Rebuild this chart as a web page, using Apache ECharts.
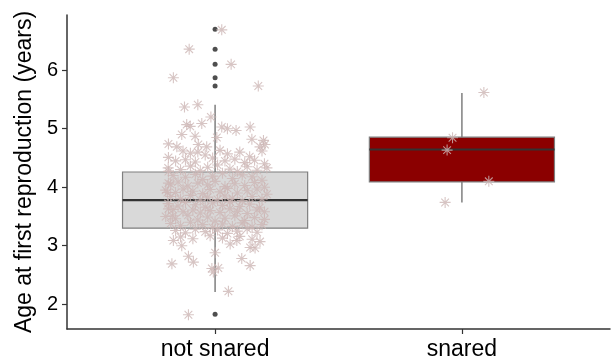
<!DOCTYPE html>
<html>
<head>
<meta charset="utf-8">
<script src="https://cdn.jsdelivr.net/npm/echarts@6/dist/echarts.min.js"></script>
<style>
html,body{margin:0;padding:0;background:#fff;}
#chart{width:613px;height:362px;}
</style>
</head>
<body>
<div id="chart"></div>
<script>
// Categories and positions on the discrete axis
const categories = ['not snared', 'snared'];
const categoryPos = [1, 2];
const yTicks = [2, 3, 4, 5, 6];

// Box statistics: [position, lowerWhisker, Q1, median, Q3, upperWhisker]
const boxNotSnared = [1, 2.21, 3.30, 3.78, 4.26, 5.41];
const boxSnared = [2, 3.74, 4.09, 4.645, 4.855, 5.61];
const boxFills = ['#d9d9d9', '#8b0000'];

// Outliers (not snared)
const outlierX = [1, 1, 1, 1, 1, 1];
const outlierY = [6.70, 6.36, 6.10, 5.87, 5.73, 1.83];

// Jittered observations, not snared
const notSnaredX = [
  1.027, 0.895, 1.065, 0.831, 1.175,
  0.876, 0.930, 0.983, 0.885, 0.899, 0.946, 1.027, 1.050, 1.085, 1.142, 0.865, 0.919, 1.007, 1.149, 1.196, 0.811, 0.845, 0.932, 0.966, 1.182, 1.202,
  0.811, 0.811, 0.811, 0.807, 0.811, 0.827,
  0.825, 0.892, 0.912, 0.987, 0.993, 1.013, 1.000, 1.108, 1.142, 1.054, 0.892, 1.162, 0.831, 0.865, 1.061, 1.088, 1.182, 1.142,
  0.87, 0.90, 0.93, 0.96, 1.02, 1.05, 1.10, 1.14, 1.19, 0.84, 0.88, 0.92, 0.99, 1.04, 1.08, 1.12, 1.16, 1.20,
  0.81, 0.86, 0.90, 0.94, 0.97, 1.01, 1.06, 1.09, 1.13, 1.17, 1.21,
  0.83, 0.88, 0.92, 0.95, 0.99, 1.03, 1.07, 1.11, 1.15, 1.19,
  0.82, 0.85, 0.89, 0.93, 0.97, 1.00, 1.04, 1.08, 1.12, 1.16, 1.20,
  0.80, 0.84, 0.87, 0.91, 0.95, 0.98, 1.02, 1.05, 1.09, 1.13, 1.17, 1.21,
  0.82, 0.86, 0.90, 0.94, 0.97, 1.01, 1.04, 1.07, 1.11, 1.15, 1.19,
  0.81, 0.85, 0.88, 0.92, 0.96, 0.99, 1.03, 1.06, 1.10, 1.14, 1.18,
  0.83, 0.87, 0.91, 0.94, 0.98, 1.02, 1.06, 1.09, 1.13, 1.17, 1.20,
  0.80, 0.84, 0.89, 0.93, 0.97, 1.00, 1.04, 1.08, 1.12, 1.16, 1.20,
  0.82, 0.86, 0.90, 0.95, 0.99, 1.03, 1.07, 1.11, 1.15, 1.19,
  0.84, 0.88, 0.92, 0.96, 1.01, 1.05, 1.09, 1.13, 1.17,
  0.86, 0.91, 0.98, 1.03, 1.10, 1.15
];
const notSnaredY = [
  6.69, 6.36, 6.10, 5.87, 5.73,
  5.37, 5.41, 5.20, 5.07, 5.04, 5.09, 5.03, 5.00, 4.97, 5.03, 4.90, 4.87, 4.85, 4.82, 4.80, 4.74, 4.69, 4.73, 4.69, 4.69, 4.73,
  4.51, 4.27, 4.07, 3.91, 3.63, 3.51,
  2.69, 2.82, 2.72, 2.61, 2.55, 2.62, 2.88, 2.78, 2.66, 2.22, 1.82, 2.96, 3.09, 3.00, 3.03, 3.09, 3.07, 2.97,
  4.62, 4.58, 4.60, 4.55, 4.63, 4.57, 4.60, 4.52, 4.62, 4.45, 4.47, 4.43, 4.50, 4.45, 4.48, 4.42, 4.46, 4.40,
  4.33, 4.30, 4.36, 4.28, 4.34, 4.38, 4.31, 4.27, 4.35, 4.29, 4.33,
  4.20, 4.17, 4.22, 4.13, 4.19, 4.24, 4.15, 4.21, 4.18, 4.12,
  4.05, 4.09, 4.02, 4.07, 4.04, 4.10, 4.01, 4.06, 4.03, 4.08, 4.00,
  3.95, 3.91, 3.97, 3.93, 3.89, 3.96, 3.92, 3.98, 3.90, 3.94, 3.97, 3.88,
  3.84, 3.80, 3.86, 3.78, 3.83, 3.79, 3.85, 3.81, 3.77, 3.84, 3.80,
  3.72, 3.68, 3.74, 3.70, 3.66, 3.73, 3.69, 3.75, 3.67, 3.71, 3.65,
  3.62, 3.58, 3.61, 3.56, 3.60, 3.57, 3.63, 3.59, 3.55, 3.61, 3.58,
  3.50, 3.46, 3.52, 3.44, 3.49, 3.42, 3.47, 3.51, 3.43, 3.48, 3.45,
  3.38, 3.34, 3.40, 3.36, 3.31, 3.37, 3.33, 3.39, 3.32, 3.36,
  3.26, 3.22, 3.28, 3.24, 3.27, 3.21, 3.25, 3.29, 3.23,
  3.15, 3.12, 3.17, 3.13, 3.16, 3.11
];

// Jittered observations, snared
const snaredX = [2.089, 1.962, 1.940, 2.109, 1.932];
const snaredY = [5.62, 4.845, 4.634, 4.10, 3.74];

const asterisk = 'path://M10,0L10,20M0,10L20,10M3,3L17,17M3,17L17,3';
const pointColor = '#cdb7b5';

function zip(xs, ys) { return xs.map((x, i) => [x, ys[i]]); }

const chart = echarts.init(document.getElementById('chart'), null, {renderer: 'canvas'});
const axisColor = '#333333';
const font = 'Liberation Sans, Arial, sans-serif';

chart.setOption({
  animation: false,
  grid: {left: 67, right: 3, top: 15, bottom: 33, containLabel: false},
  xAxis: {
    type: 'value', min: 0.4, max: 2.6,
    splitLine: {show: false},
    axisLine: {show: true, lineStyle: {color: axisColor, width: 1.5}},
    axisTick: {show: true, length: 5, lineStyle: {color: axisColor, width: 1.2}, customValues: categoryPos},
    axisLabel: {
      customValues: categoryPos,
      formatter: v => categories[categoryPos.indexOf(Math.round(v))] || '',
      color: '#000', fontSize: 23, fontFamily: font, margin: 9
    }
  },
  yAxis: {
    type: 'value', min: 1.576, max: 6.944,
    splitLine: {show: false},
    name: 'Age at first reproduction (years)',
    nameLocation: 'middle', nameGap: 29,
    nameTextStyle: {color: '#000', fontSize: 23, fontFamily: font},
    axisLine: {show: true, lineStyle: {color: axisColor, width: 1.5}},
    axisTick: {show: true, length: 5, lineStyle: {color: axisColor, width: 1.2}, customValues: yTicks},
    axisLabel: {customValues: yTicks, color: '#000', fontSize: 20, fontFamily: font, margin: 9}
  },
  series: [
    {
      type: 'custom',
      z: 1,
      data: [boxNotSnared, boxSnared],
      encode: {x: 0, y: [1, 2, 3, 4, 5]},
      renderItem: function (params, api) {
        const x = api.value(0), lo = api.value(1), q1 = api.value(2), med = api.value(3), q3 = api.value(4), hi = api.value(5);
        const half = 0.375;
        const pLo = api.coord([x, lo]), pQ1 = api.coord([x, q1]), pQ3 = api.coord([x, q3]), pHi = api.coord([x, hi]);
        const bl = api.coord([x - half, q1]), tr = api.coord([x + half, q3]);
        const mL = api.coord([x - half, med]), mR = api.coord([x + half, med]);
        const whisk = {stroke: '#7f7f7f', lineWidth: 1.5};
        return {
          type: 'group',
          children: [
            {type: 'line', shape: {x1: pHi[0], y1: pHi[1], x2: pQ3[0], y2: pQ3[1]}, style: whisk},
            {type: 'line', shape: {x1: pLo[0], y1: pLo[1], x2: pQ1[0], y2: pQ1[1]}, style: whisk},
            {type: 'rect', shape: {x: bl[0], y: tr[1], width: tr[0] - bl[0], height: bl[1] - tr[1]},
             style: {fill: boxFills[params.dataIndex], stroke: '#7f7f7f', lineWidth: 1.2}},
            {type: 'line', shape: {x1: mL[0], y1: mL[1], x2: mR[0], y2: mR[1]}, style: {stroke: '#333333', lineWidth: 2.2}}
          ]
        };
      }
    },
    {
      type: 'scatter', z: 2,
      data: zip(outlierX, outlierY),
      symbol: 'circle', symbolSize: 5,
      itemStyle: {color: '#222222'}
    },
    {
      type: 'scatter', z: 3,
      data: zip(notSnaredX, notSnaredY),
      symbol: asterisk, symbolSize: 11,
      itemStyle: {color: 'transparent', borderColor: pointColor, borderWidth: 1.1}
    },
    {
      type: 'scatter', z: 3,
      data: zip(snaredX, snaredY),
      symbol: asterisk, symbolSize: 11,
      itemStyle: {color: 'transparent', borderColor: pointColor, borderWidth: 1.1}
    }
  ]
});
</script>
</body>
</html>
